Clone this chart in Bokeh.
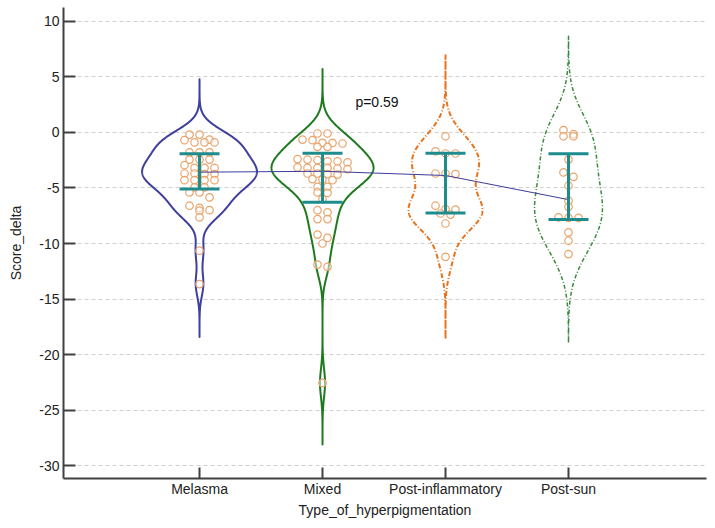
import numpy as np
from bokeh.plotting import figure
from bokeh.models import Range1d, FixedTicker, Label
from bokeh.embed import file_html
from bokeh.resources import INLINE

# ---------------- data ----------------
categories = ["Melasma", "Mixed", "Post-inflammatory", "Post-sun"]
cat_pos = [1, 2, 3, 4]

melasma = [-0.2, -0.2,
           -0.65, -0.7, -0.9, -0.9, -0.9,
           -1.8, -1.8, -1.8,
           -2.45, -2.45, -2.45,
           -2.95, -3.2, -3.2, -3.2,
           -3.7, -3.7, -3.75, -3.75,
           -4.3, -4.3, -4.3, -4.3,
           -4.95, -4.95,
           -5.4, -5.4,
           -5.85,
           -6.6, -6.8, -7.0, -7.05,
           -7.65,
           -10.65, -13.65]

mixed = [-0.1, -0.1,
         -0.65, -0.7,
         -0.95, -0.95, -1.0,
         -1.3, -1.3,
         -2.4, -2.45, -2.5, -2.6, -2.6, -2.7,
         -3.15, -3.2, -3.2, -3.2, -3.25, -3.3,
         -3.7, -3.7, -3.75, -3.8,
         -4.2, -4.25, -4.3,
         -4.9, -4.9,
         -5.4, -5.45,
         -6.0,
         -7.0, -7.2,
         -7.8, -7.8,
         -9.2, -9.5,
         -10.0,
         -11.9, -12.1,
         -22.55]

post_inflammatory = [-0.35,
                     -1.7, -1.9, -1.9,
                     -3.7, -3.7, -3.75,
                     -6.6, -6.9, -6.95,
                     -7.3, -7.4,
                     -8.2,
                     -11.2]

post_sun = [0.2, -0.15, -0.35, -0.35,
            -2.45, -3.6, -4.0, -4.8,
            -6.15, -6.7,
            -7.65, -7.7, -7.7,
            -9.0, -9.75, -10.95]

upper_quartile = [-1.93, -1.87, -1.87, -1.93]
lower_quartile = [-5.09, -6.29, -7.26, -7.83]
center_values = [-3.58, -3.50, -3.88, -6.05]

y_ticks = [10, 5, 0, -5, -10, -15, -20, -25, -30]
y_tick_labels = ["10", "5", "0", "-5", "-10", "-15", "-20", "-25", "-30"]
p_text = "p=0.59"

# ---------------- styles ----------------
FONT = "Liberation Sans"
groups = [melasma, mixed, post_inflammatory, post_sun]
violin_colors = ["#3f3f9c", "#1f7a1f", "#e8731e", "#3c8a3c"]
violin_dash = ["solid", "solid", "5 2 1 2", "4 2 1 2"]
violin_width = [2, 2, 2, 1.5]
violin_bw = [1.1, 1.3, 1.6, 2.4]
violin_cut = [5e-6, 5e-6, 5e-6, 6e-4]
violin_half = [0.467, 0.415, 0.301, 0.276]   # max half-width in x units
point_color = "#e9a46c"
bar_color = "#1e8c8c"
line_color = "#3c3c9a"

p = figure(width=710, height=520, output_backend="svg", toolbar_location=None,
           x_range=Range1d(-0.106, 5.122), y_range=Range1d(-31.15, 11.24),
           min_border_left=63, min_border_right=4, min_border_top=7,
           min_border_bottom=40)
p.outline_line_color = None
p.background_fill_color = "white"
p.border_fill_color = "white"


def kde(vals, bw, grid):
    v = np.asarray(vals, dtype=float)
    d = (grid[:, None] - v[None, :]) / bw
    return np.exp(-0.5 * d * d).sum(axis=1) / (len(v) * bw * np.sqrt(2 * np.pi))


for vals, pos, col, dash, lw, bw, cut, hw in zip(groups, cat_pos, violin_colors,
                                                  violin_dash, violin_width,
                                                  violin_bw, violin_cut,
                                                  violin_half):
    grid = np.linspace(min(vals) - 14, max(vals) + 14, 1200)
    dens = kde(vals, bw, grid)
    rel = dens / dens.max()
    idx = np.where(rel > cut)[0]
    g = grid[idx[0]:idx[-1] + 1]
    half = rel[idx[0]:idx[-1] + 1] * hw
    xs = np.concatenate([pos - half, (pos + half)[::-1]])
    ys = np.concatenate([g, g[::-1]])
    p.patch(xs, ys, fill_alpha=0, line_color=col, line_width=lw,
            line_dash=dash, line_join="round")

# swarm layout: rows of nearby values, spread horizontally
step = 10.0 / 123.0
sx, sy = [], []
for vals, pos in zip(groups, cat_pos):
    rows = []
    for v in sorted(vals, reverse=True):
        if rows and rows[-1][0] - v <= 0.45:
            rows[-1].append(v)
        else:
            rows.append([v])
    for row in rows:
        n = len(row)
        for i, v in enumerate(row):
            sx.append(pos + (i - (n - 1) / 2) * step)
            sy.append(v)

p.scatter(sx, sy, marker="circle", size=7.5, line_color=point_color,
          line_width=1.2, fill_color="white", fill_alpha=0.5)

# line through centre values
p.line(cat_pos, center_values, line_color=line_color, line_width=1)

# quartile bars
cap = 20.0 / 123.0
p.segment(x0=cat_pos, y0=lower_quartile, x1=cat_pos, y1=upper_quartile,
          line_color=bar_color, line_width=3)
p.segment(x0=[c - cap for c in cat_pos], y0=upper_quartile,
          x1=[c + cap for c in cat_pos], y1=upper_quartile,
          line_color=bar_color, line_width=3)
p.segment(x0=[c - cap for c in cat_pos], y0=lower_quartile,
          x1=[c + cap for c in cat_pos], y1=lower_quartile,
          line_color=bar_color, line_width=3)

p.add_layout(Label(x=2.443, y=2.74, text=p_text, text_align="center",
                   text_baseline="middle", text_font=FONT,
                   text_font_size="14px", text_color="#111111"))

# axes
p.xaxis.ticker = FixedTicker(ticks=cat_pos)
p.xaxis.major_label_overrides = {c: n for c, n in zip(cat_pos, categories)}
p.yaxis.ticker = FixedTicker(ticks=y_ticks)
p.yaxis.major_label_overrides = {t: s for t, s in zip(y_ticks, y_tick_labels)}
p.xaxis.axis_label = "Type_of_hyperpigmentation"
p.yaxis.axis_label = "Score_delta"
for ax in (p.xaxis, p.yaxis):
    ax.axis_line_color = "#404040"
    ax.axis_line_width = 2
    ax.major_tick_line_color = "#404040"
    ax.major_tick_line_width = 2
    ax.major_tick_out = 0
    ax.minor_tick_line_color = None
    ax.major_label_text_font = FONT
    ax.major_label_text_font_size = "14px"
    ax.major_label_text_color = "#222222"
    ax.axis_label_text_font = FONT
    ax.axis_label_text_font_size = "14px"
    ax.axis_label_text_font_style = "normal"
    ax.axis_label_text_color = "#222222"
p.yaxis.major_label_standoff = 4
p.xaxis.major_label_standoff = 2
p.yaxis.major_tick_in = 12
p.xaxis.major_tick_in = 11
p.xaxis.axis_label_standoff = 2
p.yaxis.axis_label_standoff = 12

p.xgrid.grid_line_color = None
p.ygrid.grid_line_color = "#d0d0d0"
p.ygrid.grid_line_dash = "4 3"
p.ygrid.grid_line_width = 1

open("out.html", "w").write(file_html(p, INLINE))
